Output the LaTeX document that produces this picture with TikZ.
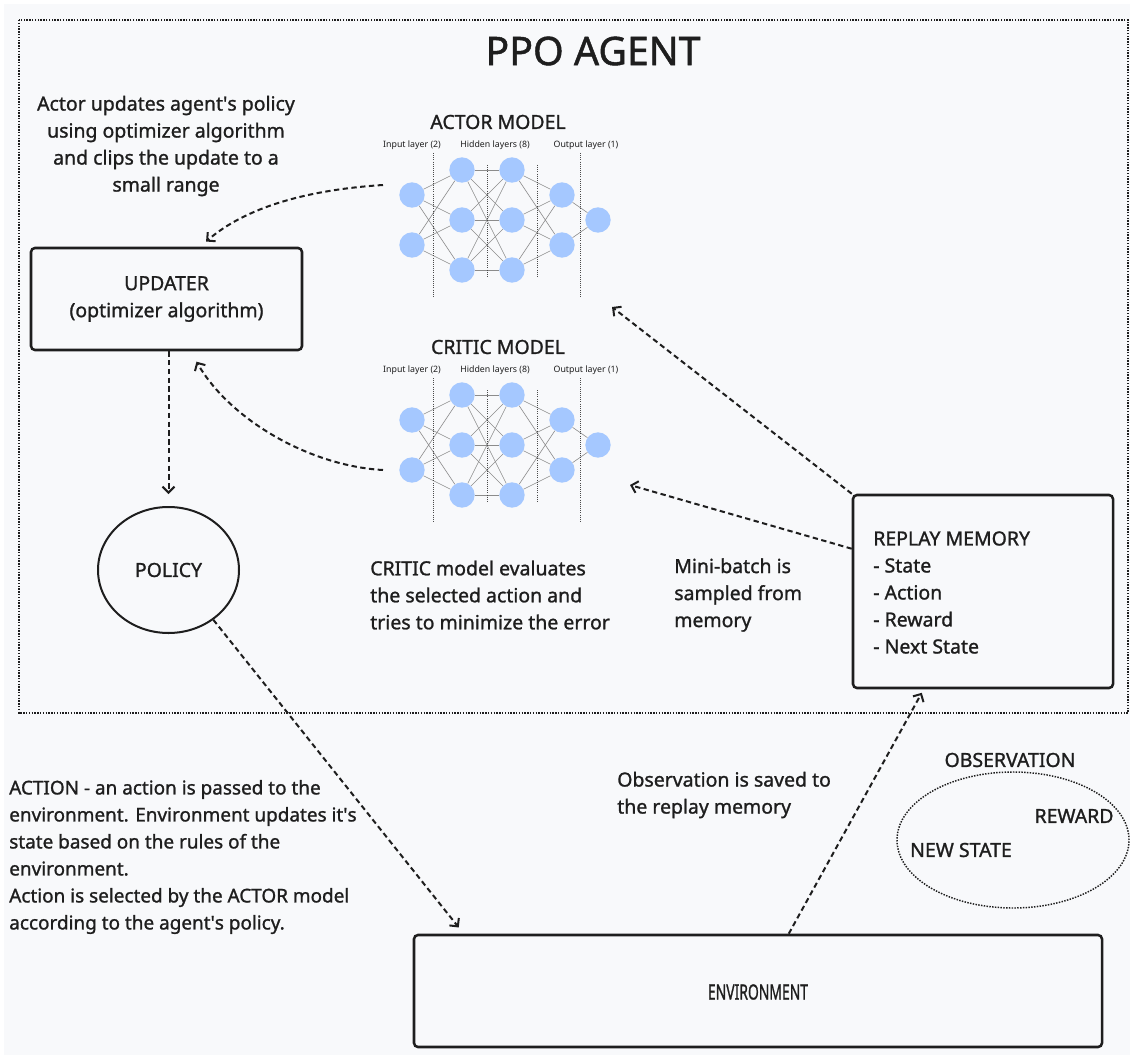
\documentclass[tikz,border=0pt]{standalone}
\usepackage{fontspec}
\usepackage{graphicx}
\setmainfont[FakeBold=1.2]{Noto Sans}
\usetikzlibrary{arrows.meta,shapes.geometric,calc}
\definecolor{bgc}{HTML}{F8F9FB}
\definecolor{ink}{HTML}{1E1E1E}
\definecolor{neuronfill}{HTML}{A5C8FF}
\definecolor{wire}{HTML}{8C8C8C}
\newcommand\apos{\textquotesingle}

% one small feed-forward network: #1 name prefix, #2 vertical shift
\newcommand\drawnnet[2]{%
  \begin{scope}[shift={(0,#2)}]
    \foreach \j/\yy in {1/195,2/245} \node[neuron] (#1i\j) at (412,\yy) {};
    \foreach \j/\yy in {1/170,2/220,3/270} \node[neuron] (#1a\j) at (462,\yy) {};
    \foreach \j/\yy in {1/170,2/220,3/270} \node[neuron] (#1b\j) at (512,\yy) {};
    \foreach \j/\yy in {1/195,2/245} \node[neuron] (#1c\j) at (562,\yy) {};
    \node[neuron] (#1o) at (598,220) {};
    \foreach \p in {1,2} \foreach \q in {1,2,3} \draw[synapse] (#1i\p) -- (#1a\q);
    \foreach \p in {1,2,3} \foreach \q in {1,2,3} \draw[synapse] (#1a\p) -- (#1b\q);
    \foreach \p in {1,2,3} \foreach \q in {1,2} \draw[synapse] (#1b\p) -- (#1c\q);
    \foreach \p in {1,2} \draw[synapse] (#1c\p) -- (#1o);
    \draw[layersep] (433,153) -- (433,298);
    \draw[layersep] (487,165) -- (487,277);
    \draw[layersep] (537,165) -- (537,277);
    \draw[layersep] (580,153) -- (580,298);
    \node[tiny] (#1lin)  at (412,145) {Input layer (2)};
    \node[tiny] (#1lhid) at (495,145) {Hidden layers (8)};
    \node[tiny] (#1lout) at (586,145) {Output layer (1)};
  \end{scope}}

\begin{document}
\begin{tikzpicture}[x=0.75pt,y=-0.75pt,
  txt/.style={font=\fontsize{14.6}{20.25}\selectfont, text=ink, inner sep=0pt},
  tiny/.style={font=\fontsize{6.6}{8}\selectfont\addfontfeature{FakeBold=0}, text=ink, inner sep=0pt},
  neuron/.style={circle, fill=neuronfill, inner sep=0pt, minimum size=19pt},
  synapse/.style={draw=wire, line width=0.45pt},
  layersep/.style={draw=ink!80, line width=0.6pt, densely dotted},
  box/.style={draw=ink, line width=1.9pt, rounded corners=3pt, txt, align=center},
  flow/.style={draw=ink, line width=1.5pt, dash pattern=on 4pt off 2.6pt,
    -{Straight Barb[length=4.5pt,width=9pt]}},
]
% page and agent frame
\fill[white] (0,0) rectangle (1130,1055);
\fill[bgc] (4,4) rectangle (1130,1055);
\draw[ink, line width=1.1pt, densely dotted] (19,20) rectangle (1128,713);

\node[font=\fontsize{29.5}{34}\selectfont, text=ink, inner sep=0pt] (title) at (593,51) {PPO AGENT};

% actor and critic networks
\node[txt] (actorT) at (498,122) {ACTOR MODEL};
\drawnnet{a}{0}
\node[txt] (criticT) at (498,347) {CRITIC MODEL};
\drawnnet{c}{225}

% boxes
\node[box, minimum width=203.25pt, minimum height=76.5pt] (updater) at (166.5,299)
  {UPDATER\\(optimizer algorithm)};
\node[draw=ink, line width=1.5pt, ellipse, minimum width=105.75pt, minimum height=94.5pt,
  txt] (policy) at (168.5,570) {POLICY};
\node[box, minimum width=195pt, minimum height=144.75pt] (replay) at (983,591.5) {};
\node[txt, align=left, anchor=west] (replayT) at (873,592.5)
  {REPLAY MEMORY\\- State\\- Action\\- Reward\\- Next State};
\node[box, minimum width=516pt, minimum height=84pt] (env) at (758,991) {};
\node[txt, font=\fontsize{15.8}{17}\selectfont] (envT) at (758,992)
  {\scalebox{0.66}[1]{ENVIRONMENT}};

% observation cloud
\node[draw=ink, line width=1.1pt, densely dotted, ellipse, minimum width=174pt,
  minimum height=102pt] (obs) at (1013,840) {};
\node[txt] (obsT) at (1010,760) {OBSERVATION};
\node[txt] (rewT) at (1074,816) {REWARD};
\node[txt] (nsT) at (961,850) {NEW STATE};

% explanatory texts
\node[txt, align=center] (actorNote) at (166,146)
  {Actor updates agent\apos s policy\\using optimizer algorithm\\and clips the update to a\\small range};
\node[txt, align=left, anchor=west] (criticNote) at (370,595)
  {CRITIC model evaluates\\the selected action and\\tries to minimize the error};
\node[txt, align=left, anchor=west] (batchNote) at (674,595)
  {Mini-batch is\\sampled from\\memory};
\node[txt, font=\fontsize{14.2}{20.25}\selectfont, align=left, anchor=west] (actionNote) at (9,857)
  {ACTION - an action is passed to the\\environment. Environment updates it\apos s\\state based on the rules of the\\environment.\\Action is selected by the ACTOR model\\according to the agent\apos s policy.};
\node[txt, align=left, anchor=west] (obsNote) at (617,795)
  {Observation is saved to\\the replay memory};

% connector ends beside the networks
\coordinate (actorL) at (383,185);
\coordinate (criticL) at (383,470);
\coordinate (actorR) at (612,307);
\coordinate (criticR) at (630,485);

% flows
\draw[flow, shorten >=6pt] (actorL) .. controls (305,190) and (245,208) .. ($(updater.north)+(33.5,0)$);
\draw[flow, shorten >=9pt] (criticL) .. controls (310,466) and (230,420) .. ($(updater.south)+(24,0)$);
\draw[flow, shorten >=9pt] (updater.south -| policy.north) -- (policy.north);
\draw[flow, shorten >=6pt] (policy.-48) -- ($(env.north west)+(51,0)$);
\draw[flow, shorten >=3pt] ($(env.north west)+(376,0)$) -- ($(replay.south west)+(72,0)$);
\draw[flow] (replay.north west) -- (actorR);
\draw[flow] ($(replay.north west)+(0,55)$) -- (criticR);
\end{tikzpicture}
\end{document}
